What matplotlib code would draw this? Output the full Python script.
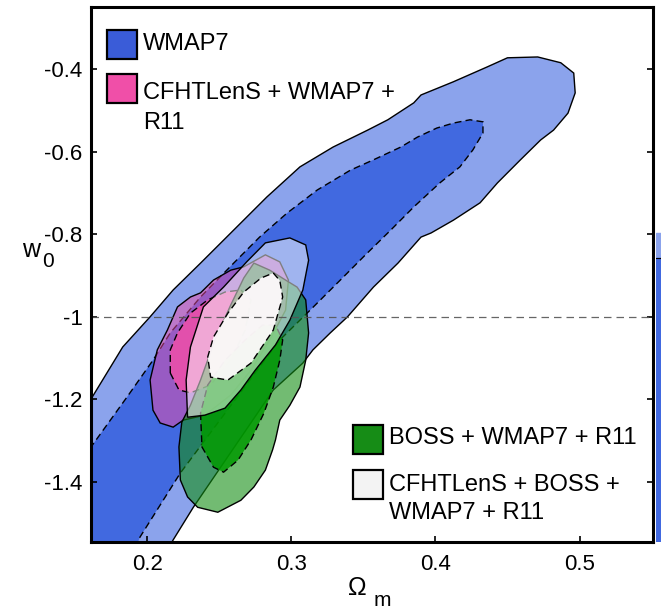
import matplotlib.pyplot as plt
from matplotlib.patches import Rectangle

plt.rcParams['font.family'] = ['Liberation Sans', 'DejaVu Sans']
plt.rcParams['axes.unicode_minus'] = False

# confidence contours in the (Omega_m, w0) plane
wmap95_om = [0.12, 0.14, 0.161, 0.183, 0.202, 0.218, 0.237, 0.258, 0.283, 0.306, 0.329,
             0.353, 0.367, 0.385, 0.390, 0.4125, 0.436, 0.450, 0.471, 0.487, 0.496, 0.497,
             0.492, 0.482, 0.473, 0.459, 0.443, 0.431, 0.4125, 0.397, 0.390, 0.374, 0.357,
             0.339, 0.327, 0.315, 0.308, 0.2875, 0.232, 0.218, 0.205]
wmap95_w = [-1.62, -1.32, -1.199, -1.073, -1.0, -0.935, -0.870, -0.797, -0.710, -0.637, -0.589,
            -0.548, -0.523, -0.482, -0.463, -0.431, -0.395, -0.373, -0.371, -0.385, -0.410, -0.458,
            -0.507, -0.548, -0.572, -0.620, -0.676, -0.724, -0.766, -0.797, -0.807, -0.870, -0.928,
            -1.0, -1.039, -1.080, -1.112, -1.177, -1.461, -1.540, -1.62]

wmap68_om = [0.12, 0.161, 0.186, 0.204, 0.216, 0.237, 0.260, 0.278, 0.297, 0.318, 0.341,
             0.357, 0.376, 0.3875, 0.401, 0.4125, 0.424, 0.433, 0.433, 0.426, 0.417, 0.403,
             0.385, 0.369, 0.350, 0.334, 0.313, 0.292, 0.223, 0.195, 0.185, 0.12]
wmap68_w = [-1.40, -1.315, -1.194, -1.105, -1.039, -0.952, -0.870, -0.807, -0.749, -0.693, -0.645,
            -0.620, -0.589, -0.565, -0.543, -0.531, -0.523, -0.528, -0.555, -0.596, -0.637, -0.676,
            -0.734, -0.790, -0.855, -0.911, -0.984, -1.056, -1.378, -1.533, -1.62, -1.62]

cfht95_om = [0.202, 0.204, 0.209, 0.218, 0.225, 0.240, 0.258, 0.272, 0.285, 0.296, 0.298,
             0.292, 0.282, 0.267, 0.258, 0.246, 0.237, 0.230, 0.221, 0.214, 0.207]
cfht95_w = [-1.153, -1.226, -1.257, -1.267, -1.250, -1.238, -1.189, -1.129, -1.056, -0.984, -0.911,
            -0.867, -0.850, -0.879, -0.887, -0.911, -0.942, -0.952, -0.976, -1.032, -1.080]

cfht68_om = [0.216, 0.216, 0.221, 0.230, 0.242, 0.254, 0.265, 0.272, 0.268, 0.258, 0.244,
             0.230, 0.222]
cfht68_w = [-1.136, -1.080, -1.039, -0.991, -0.959, -0.940, -0.935, -0.959, -1.032, -1.104, -1.165,
            -1.184, -1.177]

boss95_om = [0.274, 0.285, 0.296, 0.304, 0.310, 0.312, 0.310, 0.306, 0.299, 0.292, 0.289,
             0.287, 0.282, 0.274, 0.265, 0.249, 0.235, 0.228, 0.223, 0.222, 0.224, 0.230,
             0.237, 0.247, 0.258, 0.267]
boss95_w = [-0.870, -0.887, -0.911, -0.928, -0.959, -1.039, -1.105, -1.170, -1.214, -1.250, -1.298,
            -1.322, -1.371, -1.412, -1.444, -1.473, -1.461, -1.436, -1.395, -1.315, -1.255, -1.214,
            -1.153, -1.056, -0.971, -0.906]

boss68_om = [0.237, 0.238, 0.246, 0.253, 0.263, 0.272, 0.281, 0.2875, 0.292, 0.294, 0.289,
             0.280, 0.268, 0.254, 0.242]
boss68_w = [-1.233, -1.315, -1.364, -1.376, -1.347, -1.298, -1.233, -1.170, -1.105, -1.056, -1.020,
            -1.020, -1.056, -1.105, -1.165]

all95_om = [0.228, 0.227, 0.230, 0.239, 0.253, 0.269, 0.282, 0.299, 0.310, 0.312, 0.308,
            0.299, 0.289, 0.275, 0.265, 0.254, 0.240]
all95_w = [-1.243, -1.153, -1.073, -0.976, -0.928, -0.867, -0.821, -0.809, -0.826, -0.863, -0.935,
           -1.008, -1.068, -1.129, -1.177, -1.221, -1.238]

all68_om = [0.2875, 0.292, 0.294, 0.2875, 0.272, 0.256, 0.244, 0.242, 0.246, 0.256, 0.267, 0.279]
all68_w = [-0.894, -0.912, -0.952, -1.032, -1.112, -1.153, -1.146, -1.097, -1.049, -0.991, -0.940, -0.906]

# neighbouring panel edge (WMAP7 band cut by the right border)
edge_w95_top = -0.797
edge_w68_top = -0.858

xticks = [0.2, 0.3, 0.4, 0.5]
xticklabels = ['0.2', '0.3', '0.4', '0.5']
yticks = [-1.4, -1.2, -1.0, -0.8, -0.6, -0.4]
yticklabels = ['-1.4', '-1.2', '-1', '-0.8', '-0.6', '-0.4']

blue_light = '#8ba3ec'
blue_dark = '#4169e0'
pink = (0.94, 0.31, 0.66)
green = (0.08, 0.56, 0.08)

fig = plt.figure(figsize=(6.61, 6.12), dpi=100)
ax = fig.add_axes([0.1377, 0.1144, 0.8502, 0.8742])
ax.set_xlim(0.161, 0.551)
ax.set_ylim(-1.545, -0.25)

dash = (0, (5, 3))

ax.fill(wmap95_om, wmap95_w, facecolor=blue_light, edgecolor='black', lw=1.0)
ax.fill(wmap68_om, wmap68_w, facecolor=blue_dark, edgecolor='black', lw=1.0, ls=dash)

# cosmological constant, under the other contours
ax.axhline(-1, color='#555555', lw=0.9, ls=(0, (6, 4)), alpha=0.9)

ax.fill(cfht95_om, cfht95_w, facecolor=pink + (0.5,), edgecolor='black', lw=1.0)
ax.fill(cfht68_om, cfht68_w, facecolor=pink + (0.85,), edgecolor='black', lw=1.0, ls=dash)

ax.fill(boss95_om, boss95_w, facecolor=green + (0.6,), edgecolor='black', lw=1.0)
ax.fill(boss68_om, boss68_w, facecolor=(0.0, 0.6, 0.0, 0.85), edgecolor='black', lw=1.0, ls=dash)

ax.fill(all95_om, all95_w, facecolor=(1, 1, 1, 0.5), edgecolor='black', lw=1.0)
ax.fill(all68_om, all68_w, facecolor=(1, 0.98, 0.99, 0.93), edgecolor='black', lw=1.0, ls=dash)

ax.set_xticks(xticks)
ax.set_xticklabels(xticklabels)
ax.set_yticks(yticks)
ax.set_yticklabels(yticklabels)
ax.tick_params(direction='in', length=4.5, width=1.2, labelsize=16, right=True, top=False)
ax.tick_params(axis='x', pad=9)
ax.tick_params(axis='y', pad=6)
for side in ['left', 'bottom', 'right', 'top']:
    ax.spines[side].set_linewidth(2.2)
    ax.spines[side].set_zorder(10)

# axis labels, MATLAB style with a detached subscript
fig.text(0.047, 0.592, 'w', fontsize=18, ha='center', va='center')
fig.text(0.073, 0.572, '0', fontsize=15, ha='center', va='center')
fig.text(0.540, 0.040, 'Ω', fontsize=18, ha='center', va='center')
fig.text(0.578, 0.019, 'm', fontsize=15, ha='center', va='center')

# legends
def legend_box(x, y, color, lines, ty, dy):
    ax.add_patch(Rectangle((x, y), 0.0534, 0.0542, transform=ax.transAxes,
                           facecolor=color, edgecolor='black', lw=1.6, zorder=12))
    for i, line in enumerate(lines):
        ax.text(x + 0.064, ty - i * dy, line, transform=ax.transAxes, fontsize=17,
                ha='left', va='center', zorder=12)

legend_box(0.0285, 0.9028, '#3a5cd8', ['WMAP7'], 0.930, 0.056)
legend_box(0.0285, 0.8206, '#f04fa8', ['CFHTLenS + WMAP7 +', 'R11'], 0.840, 0.056)
legend_box(0.4662, 0.1645, '#168c16', ['BOSS + WMAP7 + R11'], 0.1944, 0.0523)
legend_box(0.4662, 0.0804, '#f3f3f3', ['CFHTLenS + BOSS +', 'WMAP7 + R11'], 0.1065, 0.0523)

# strip of the next panel
ax_edge = fig.add_axes([0.9925, 0.1144, 0.05, 0.8742])
ax_edge.set_ylim(-1.545, -0.25)
ax_edge.set_xlim(0, 1)
ax_edge.axhspan(edge_w68_top, edge_w95_top, color=blue_light)
ax_edge.axhspan(-1.545, edge_w68_top, color=blue_dark)
ax_edge.axhline(edge_w68_top, color='black', lw=0.8)
ax_edge.axis('off')

fig.savefig('out.png', dpi=100)
